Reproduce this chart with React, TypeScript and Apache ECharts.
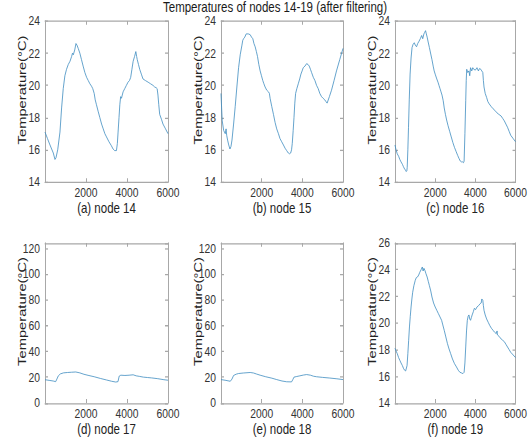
import React, { useEffect, useRef } from "react";
import * as echarts from "echarts";

// ---------- data (time index, temperature °C) ----------
const node14: [number, number][] = [
  [0, 17.1], [120, 16.7], [243, 16.3], [405, 15.8], [486, 15.4], [535, 15.5], [620, 16.0], [730, 17.1],
  [810, 18.6], [890, 19.8], [970, 20.6], [1050, 21.0], [1135, 21.3], [1220, 21.5], [1300, 21.8], [1340, 22.0],
  [1380, 21.9], [1450, 22.2], [1510, 22.6], [1560, 22.5], [1620, 22.3], [1700, 22.0], [1780, 21.6], [1860, 21.2],
  [1945, 20.8], [2030, 20.5], [2110, 20.3], [2190, 20.1], [2270, 19.95], [2330, 19.8], [2400, 19.5], [2450, 19.1],
  [2510, 18.8], [2590, 18.4], [2675, 18.0], [2760, 17.6], [2840, 17.3], [2920, 17.0], [3000, 16.8], [3120, 16.5],
  [3240, 16.25], [3320, 16.05], [3400, 15.95], [3485, 15.95], [3530, 16.4], [3565, 17.1], [3610, 18.0], [3650, 18.8],
  [3690, 19.3], [3730, 19.2], [3810, 19.6], [3890, 19.8], [3970, 20.0], [4050, 20.2], [4120, 20.3], [4180, 20.5],
  [4240, 21.0], [4300, 21.5], [4370, 21.8], [4430, 22.1], [4470, 21.8], [4500, 21.6], [4560, 21.3], [4620, 21.0],
  [4700, 20.7], [4780, 20.4], [4900, 20.3], [5030, 20.2], [5150, 20.1], [5270, 20.0], [5350, 19.9], [5430, 19.85],
  [5470, 19.8], [5510, 19.4], [5550, 18.8], [5595, 18.2], [5680, 17.9], [5755, 17.6], [5880, 17.3], [6000, 17.0],
];

const node15: [number, number][] = [
  [0, 19.5], [30, 18.6], [60, 17.8], [130, 17.2], [210, 17.0], [250, 17.3], [280, 16.9], [325, 16.6],
  [380, 16.3], [440, 16.05], [490, 16.2], [540, 16.6], [620, 17.6], [700, 18.7], [780, 19.9], [865, 21.1],
  [945, 21.9], [1030, 22.5], [1070, 22.8], [1110, 22.9], [1170, 23.0], [1240, 23.2], [1340, 23.2], [1435, 23.15],
  [1500, 23.0], [1565, 22.9], [1620, 22.6], [1680, 22.4], [1740, 22.1], [1795, 21.8], [1860, 21.3], [1925, 20.9],
  [1990, 20.6], [2055, 20.3], [2110, 20.1], [2170, 19.9], [2250, 19.7], [2335, 19.6], [2380, 19.5], [2415, 19.2],
  [2495, 18.7], [2580, 18.2], [2660, 17.7], [2740, 17.3], [2825, 17.0], [2900, 16.7], [2985, 16.5], [3070, 16.3],
  [3150, 16.1], [3230, 15.95], [3310, 15.8], [3380, 15.75], [3425, 15.8], [3470, 16.0], [3505, 16.4], [3550, 17.2],
  [3590, 18.0], [3630, 18.9], [3670, 19.5], [3730, 19.8], [3800, 20.1], [3870, 20.4], [3930, 20.7], [3990, 20.9],
  [4045, 21.1], [4130, 21.2], [4210, 21.35], [4280, 21.3], [4340, 21.2], [4400, 21.0], [4455, 20.8], [4540, 20.5],
  [4620, 20.3], [4700, 20.0], [4780, 19.8], [4860, 19.5], [4945, 19.3], [5020, 19.2], [5105, 19.1], [5160, 19.0],
  [5220, 18.9], [5330, 19.3], [5435, 19.7], [5560, 20.3], [5680, 20.9], [5840, 21.6], [6000, 22.3],
];

const node16: [number, number][] = [
  [0, 16.3], [50, 16.0], [112, 15.75], [180, 15.6], [240, 15.4], [300, 15.25], [368, 15.1], [420, 14.95],
  [480, 14.8], [520, 14.75], [560, 14.65], [590, 14.7], [608, 14.9], [640, 16.0], [672, 17.4], [710, 19.1],
  [752, 20.7], [800, 21.7], [848, 22.35], [900, 22.55], [960, 22.65], [1010, 22.5], [1072, 22.4], [1130, 22.6],
  [1200, 22.75], [1260, 22.9], [1328, 23.1], [1380, 22.9], [1440, 23.2], [1480, 23.3], [1520, 23.4], [1560, 23.2],
  [1600, 23.0], [1650, 22.7], [1712, 22.35], [1780, 21.95], [1840, 21.6], [1900, 21.2], [1950, 20.9], [2000, 20.7],
  [2080, 20.4], [2140, 20.2], [2190, 20.0], [2240, 19.8], [2290, 19.6], [2340, 19.4], [2400, 19.05], [2450, 18.6],
  [2510, 18.2], [2570, 17.85], [2640, 17.5], [2720, 17.15], [2800, 16.8], [2880, 16.45], [2960, 16.15], [3040, 15.9],
  [3120, 15.65], [3190, 15.45], [3250, 15.3], [3300, 15.25], [3360, 15.25], [3410, 15.2], [3440, 15.3], [3480, 17.0],
  [3520, 19.05], [3545, 20.3], [3570, 21.0], [3620, 20.8], [3680, 20.9], [3720, 20.6], [3760, 21.1], [3820, 20.9],
  [3870, 21.1], [3920, 21.0], [4000, 20.95], [4080, 21.1], [4150, 20.9], [4210, 21.05], [4270, 21.0], [4320, 20.9],
  [4370, 20.8], [4400, 20.3], [4430, 19.9], [4490, 19.5], [4560, 19.25], [4620, 19.0], [4690, 18.85], [4780, 18.7],
  [4880, 18.55], [4970, 18.45], [5070, 18.3], [5170, 18.2], [5280, 18.1], [5360, 17.95], [5440, 17.8], [5520, 17.6],
  [5600, 17.4], [5680, 17.15], [5760, 16.9], [5880, 16.7], [6000, 16.5],
];

const node17: [number, number][] = [
  [0, 18.0], [200, 17.5], [400, 17.0], [520, 16.5], [580, 18.5], [650, 21.0], [750, 22.5], [900, 23.3],
  [1100, 23.6], [1300, 23.8], [1500, 24.0], [1700, 23.3], [1900, 22.2], [2100, 21.4], [2400, 20.3], [2700, 19.0],
  [3000, 17.8], [3250, 16.8], [3450, 16.2], [3560, 16.5], [3620, 20.8], [3700, 21.5], [3900, 21.3], [4100, 21.5],
  [4300, 21.8], [4450, 21.0], [4600, 20.6], [4800, 20.0], [5000, 19.7], [5200, 19.4], [5500, 18.8], [5800, 18.0],
  [6000, 17.6],
];

const node18: [number, number][] = [
  [0, 18.1], [200, 17.6], [457, 16.8], [540, 18.5], [620, 21.3], [750, 22.3], [865, 22.8], [1100, 23.2],
  [1435, 23.6], [1600, 23.2], [1750, 22.4], [1925, 21.5], [2200, 20.3], [2500, 19.2], [2740, 18.1], [3000, 17.0],
  [3230, 16.4], [3470, 16.3], [3530, 18.0], [3590, 20.0], [3700, 20.4], [3880, 21.0], [4050, 21.6], [4210, 22.0],
  [4400, 21.5], [4550, 20.7], [4700, 20.3], [5000, 19.8], [5350, 19.3], [5700, 18.7], [6000, 18.1],
];

const node19: [number, number][] = [
  [0, 18.1], [50, 17.9], [112, 17.7], [180, 17.4], [240, 17.2], [300, 17.0], [368, 16.8], [420, 16.6],
  [480, 16.45], [530, 16.4], [560, 16.4], [600, 16.8], [640, 17.7], [680, 18.7], [720, 19.7], [760, 20.5],
  [800, 21.2], [840, 21.8], [880, 22.3], [940, 22.8], [1008, 23.2], [1060, 23.4], [1120, 23.45], [1180, 23.6],
  [1232, 23.8], [1300, 24.0], [1360, 24.2], [1400, 23.9], [1440, 24.1], [1488, 23.95], [1540, 23.7], [1600, 23.45],
  [1660, 23.1], [1712, 22.8], [1780, 22.4], [1840, 21.95], [1920, 21.5], [2000, 21.2], [2080, 20.95], [2160, 20.7],
  [2240, 20.45], [2320, 20.2], [2380, 19.85], [2450, 19.45], [2530, 18.95], [2610, 18.45], [2690, 18.05], [2770, 17.7],
  [2860, 17.3], [2960, 16.95], [3060, 16.7], [3150, 16.45], [3230, 16.3], [3310, 16.25], [3380, 16.2], [3440, 16.3],
  [3480, 17.0], [3520, 18.2], [3560, 19.4], [3600, 20.2], [3640, 20.5], [3680, 20.6], [3720, 20.3], [3760, 20.2],
  [3800, 20.4], [3840, 20.6], [3900, 20.85], [3950, 21.1], [4010, 21.0], [4080, 21.2], [4160, 21.3], [4240, 21.45],
  [4290, 21.5], [4320, 21.8], [4370, 21.7], [4400, 21.3], [4430, 20.95], [4490, 20.6], [4560, 20.3], [4640, 20.05],
  [4720, 19.8], [4800, 19.6], [4880, 19.45], [4960, 19.3], [5040, 19.2], [5080, 19.4], [5100, 19.1], [5180, 19.0],
  [5280, 18.8], [5360, 18.7], [5440, 18.6], [5520, 18.4], [5600, 18.2], [5680, 18.0], [5760, 17.8], [5880, 17.6],
  [6000, 17.4],
];

const seriesData = [node14, node15, node16, node17, node18, node19];
const subtitles = ["(a) node 14", "(b) node 15", "(c) node 16", "(d) node 17", "(e) node 18", "(f) node 19"];
const yRanges: [number, number, number][] = [
  [14, 24, 2], [14, 24, 2], [14, 24, 2], [0, 124, 20], [0, 124, 20], [14, 26, 2],
];
const xTicks = { min: 0, max: 6000, interval: 2000 };
const titleText = "Temperatures of nodes 14-19 (after filtering)";
const yName = "Temperature(°C)";

// ---------- layout ----------
const W = 530;
const H = 438;
const S = 1.28; // vertical stretch of the reference picture
const H0 = H / S;
const FONT = "'Liberation Sans', Arial, Helvetica, sans-serif";
const BOX = "#a8a8a8";
const TXT = "#333333";
const LINE = "#3f8dc0";

const cols = [
  { left: 45, width: 123 },
  { left: 221, width: 122 },
  { left: 395, width: 125 },
];
const rows = [
  { top: 21, height: 161 },
  { top: 243, height: 160 },
];

const plain = (v: number) => String(v);

export default function App() {
  const ref = useRef<HTMLDivElement>(null);
  useEffect(() => {
    if (!ref.current) return;
    const chart = echarts.init(ref.current, undefined, { renderer: "svg", width: W, height: H0 });
    const grids: any[] = [];
    const xAxes: any[] = [];
    const yAxes: any[] = [];
    const series: any[] = [];
    const graphics: any[] = [];
    const lineStyle = { color: BOX, width: 1 };
    for (let i = 0; i < 6; i++) {
      const c = cols[i % 3];
      const r = rows[Math.floor(i / 3)];
      const gTop = r.top / S;
      const gH = r.height / S;
      grids.push({ left: c.left, width: c.width, top: gTop, height: gH });
      const [ymin, ymax, yint] = yRanges[i];
      xAxes.push({
        gridIndex: i, type: "value", position: "bottom", ...xTicks,
        axisLine: { show: true, onZero: false, lineStyle },
        axisTick: { show: true, inside: true, length: 3, lineStyle },
        splitLine: { show: false },
        axisLabel: { showMinLabel: false, fontSize: 10.3, lineHeight: 9, color: TXT, fontFamily: FONT, margin: 4, formatter: plain },
        name: subtitles[i], nameLocation: "middle", nameGap: 10.5,
        nameTextStyle: { fontSize: 11.5, lineHeight: 11, color: "#222", fontFamily: FONT },
      });
      xAxes.push({
        gridIndex: i, type: "value", position: "top", ...xTicks,
        axisLine: { show: true, onZero: false, lineStyle },
        axisTick: { show: true, inside: true, length: 3, lineStyle },
        splitLine: { show: false }, axisLabel: { show: false },
      });
      yAxes.push({
        gridIndex: i, type: "value", position: "left", min: ymin, max: ymax, interval: yint,
        axisLine: { show: true, onZero: false, lineStyle },
        axisTick: { show: true, inside: true, length: 3, lineStyle },
        splitLine: { show: false },
        axisLabel: { showMaxLabel: ymax % yint === 0, fontSize: 10.3, lineHeight: 9, color: TXT, fontFamily: FONT, margin: 5, formatter: plain },
      });
      yAxes.push({
        gridIndex: i, type: "value", position: "right", min: ymin, max: ymax, interval: yint,
        axisLine: { show: true, onZero: false, lineStyle },
        axisTick: { show: true, inside: true, length: 3, lineStyle },
        splitLine: { show: false }, axisLabel: { show: false },
      });
      // y-axis title, placed a little above the axis centre as in the reference
      graphics.push({
        type: "text",
        x: c.left - 17,
        y: gTop + gH / 2 - 9,
        rotation: Math.PI / 2,
        silent: true,
        style: {
          text: yName, fontSize: 11.5, fontFamily: FONT, fill: "#222",
          align: "center", verticalAlign: "bottom",
        },
      });
      series.push({
        type: "line", xAxisIndex: i * 2, yAxisIndex: i * 2, data: seriesData[i],
        showSymbol: false, symbol: "none", lineStyle: { color: LINE, width: 0.7 },
      });
    }
    chart.setOption({
      animation: false,
      backgroundColor: "#ffffff",
      title: {
        text: titleText, left: 163, top: 0, padding: 0,
        textStyle: { fontSize: 11.5, lineHeight: 11, fontWeight: "normal", color: "#1a1a1a", fontFamily: FONT },
      },
      grid: grids,
      xAxis: xAxes,
      yAxis: yAxes,
      series,
      graphic: graphics,
    });
    return () => chart.dispose();
  }, []);
  return (
    <div style={{ position: "absolute", left: 0, top: 0, width: W, height: H, overflow: "hidden", background: "#fff" }}>
      <div
        ref={ref}
        style={{ width: W, height: H0, transform: `scaleY(${S})`, transformOrigin: "0 0" }}
      />
    </div>
  );
}
